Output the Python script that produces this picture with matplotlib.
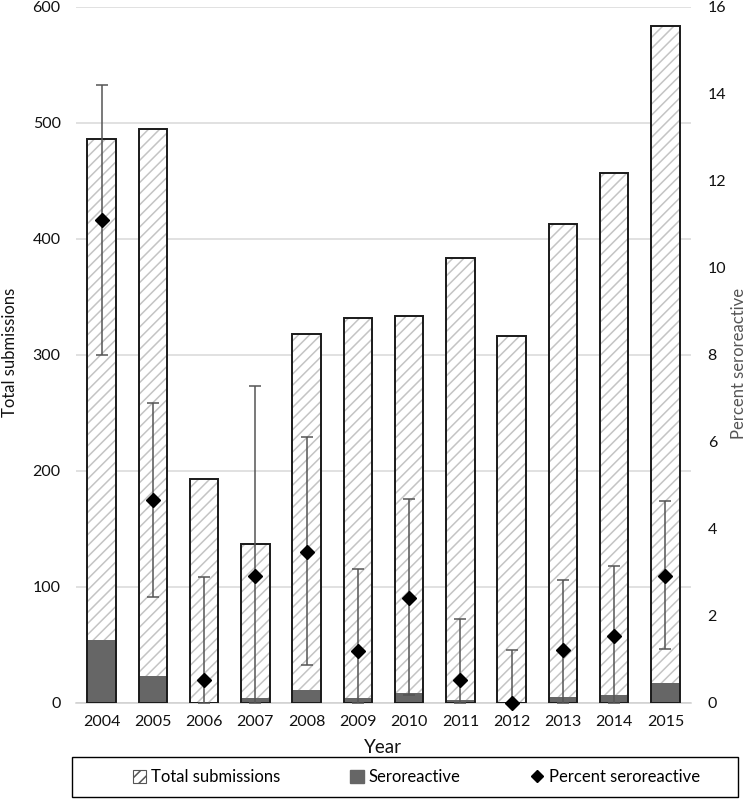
import numpy as np
import matplotlib
matplotlib.use("Agg")
import matplotlib.pyplot as plt
from matplotlib.patches import Patch, Rectangle
from matplotlib.lines import Line2D

plt.rcParams['font.family'] = ['Lato', 'DejaVu Sans']
plt.rcParams['hatch.linewidth'] = 1.1

# data
years = ['2004', '2005', '2006', '2007', '2008', '2009',
         '2010', '2011', '2012', '2013', '2014', '2015']
total = [486, 495, 193, 137, 318, 332, 333, 383, 316, 413, 457, 583]
sero = [54, 23, 1, 4, 11, 4, 8, 2, 0, 5, 7, 17]
pct = [11.1, 4.65, 0.52, 2.92, 3.46, 1.2, 2.4, 0.52, 0.0, 1.21, 1.53, 2.92]
ci_low = [8.0, 2.44, 0.0, 0.0, 0.86, 0.0, 0.17, 0.0, 0.0, 0.0, 0.0, 1.24]
ci_high = [14.2, 6.88, 2.89, 7.28, 6.1, 3.07, 4.68, 1.92, 1.22, 2.82, 3.14, 4.63]

x = np.arange(len(years))
pct = np.array(pct)
err = [pct - np.array(ci_low), np.array(ci_high) - pct]

fig = plt.figure(figsize=(7.5, 8.07), dpi=100)
ax = fig.add_axes([0.1013, 0.1292, 0.82, 0.8625])

bw = 0.555
# hatched fill, then black outline on top
ax.bar(x, total, width=bw, color='white', edgecolor='#c4c4c4', hatch='///',
       linewidth=0, zorder=2)
ax.bar(x, sero, width=bw, color='#666666', linewidth=0, zorder=3)
ax.bar(x, total, width=bw, fill=False, edgecolor='#1a1a1a', linewidth=1.4, zorder=4)

ax.set_xlim(-0.5, len(years) - 0.5)
ax.set_ylim(0, 600)
ax.set_yticks(range(0, 601, 100))
ax.set_xticks(x)
ax.set_xticklabels(years)
ax.yaxis.grid(True, color='#d9d9d9', linewidth=1.1)
ax.set_axisbelow(True)
for s in ['top', 'left', 'right']:
    ax.spines[s].set_visible(False)
ax.spines['bottom'].set_color('#d0d0d0')
ax.spines['bottom'].set_linewidth(1.1)
ax.tick_params(axis='both', length=0, labelsize=11.5, colors='#111111')
ax.tick_params(axis='y', pad=11)
ax.tick_params(axis='x', pad=9)

ax2 = ax.twinx()
ax2.set_ylim(0, 16)
ax2.set_yticks(range(0, 17, 2))
ax2.errorbar(x, pct, yerr=err, fmt='D', color='black', markersize=7,
             ecolor='#555555', elinewidth=1.1, capsize=4, capthick=1.1,
             zorder=5, clip_on=False)
for s in ['top', 'left', 'right', 'bottom']:
    ax2.spines[s].set_visible(False)
ax2.tick_params(axis='y', length=0, labelsize=11.5, colors='#111111', pad=12)

fig.text(0.014, 0.5636, 'Total submissions', rotation=90, ha='center',
         va='center', fontsize=12, color='#111111')
fig.text(0.985, 0.55, 'Percent seroreactive', rotation=90, ha='center',
         va='center', fontsize=12, color='#555555')
fig.text(0.511, 0.074, 'Year', ha='center', va='center', fontsize=13.5,
         color='#111111')

# legend box drawn separately so its width matches the reference
fig.patches.append(Rectangle((0.096, 0.0124), 0.888, 0.0496, transform=fig.transFigure,
                             fill=False, edgecolor='black', linewidth=1.0))
handles = [
    Patch(facecolor='white', edgecolor='#555555', hatch='///', linewidth=0.8),
    Patch(facecolor='#666666', edgecolor='#666666'),
    Line2D([], [], marker='D', color='black', linestyle='none', markersize=6.5),
]
leg = fig.legend(handles, ['Total submissions', 'Seroreactive', 'Percent seroreactive'],
                 loc='center', bbox_to_anchor=(0.5553, 0.0372), ncol=3,
                 fontsize=12, frameon=False,
                 handlelength=0.8, handleheight=0.8, handletextpad=0.3,
                 columnspacing=4.2, borderpad=0, borderaxespad=0)

fig.savefig('out.png', dpi=100)
